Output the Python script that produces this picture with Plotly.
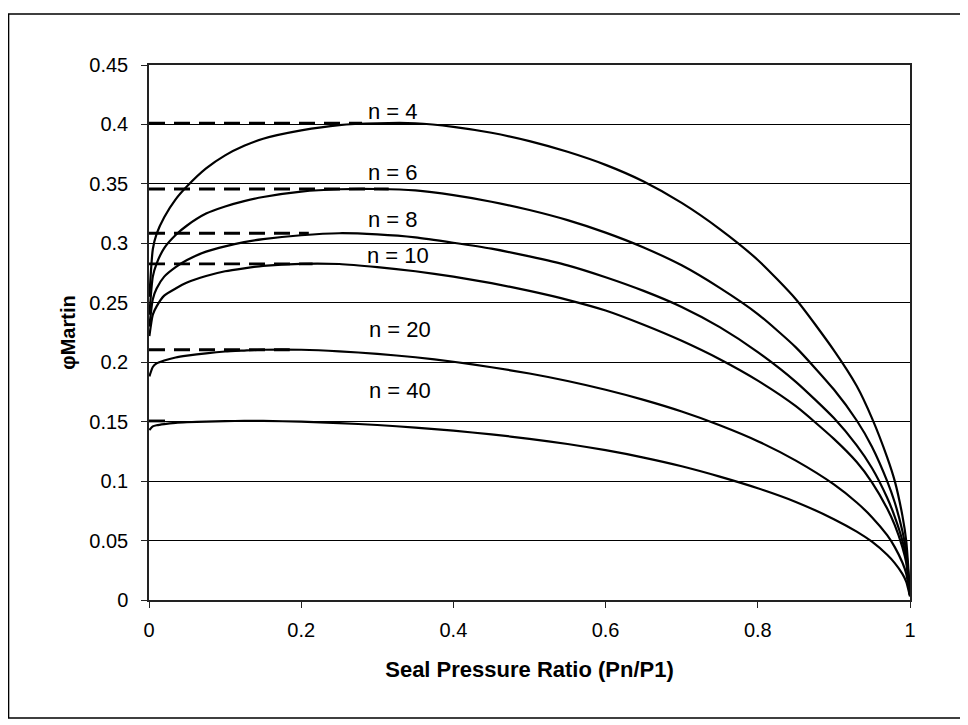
import plotly.graph_objects as go

# ---- data ----
pressure_ratio = [0.0005, 0.005, 0.01, 0.02, 0.035, 0.05, 0.075, 0.1, 0.125, 0.15, 0.2, 0.25,
                  0.3, 0.35, 0.4, 0.45, 0.5, 0.55, 0.6, 0.65, 0.7, 0.75, 0.8, 0.85, 0.9,
                  0.93, 0.95, 0.97, 0.98, 0.99, 0.995, 1.0]

phi_n4 = [0.255, 0.295, 0.308, 0.322, 0.337, 0.348, 0.363, 0.374, 0.382, 0.388, 0.395, 0.3995,
          0.401, 0.401, 0.398, 0.393, 0.386, 0.377, 0.366, 0.352, 0.334, 0.312, 0.286, 0.253, 0.210,
          0.180, 0.153, 0.120, 0.100, 0.071, 0.050, 0.005]
phi_n6 = [0.240, 0.272, 0.283, 0.296, 0.307, 0.315, 0.325, 0.331, 0.3355, 0.339, 0.3435, 0.3455,
          0.3457, 0.3445, 0.3405, 0.335, 0.328, 0.3195, 0.309, 0.2965, 0.2815, 0.2625, 0.2405, 0.2125, 0.177,
          0.151, 0.129, 0.100, 0.082, 0.058, 0.041, 0.005]
phi_n8 = [0.230, 0.253, 0.262, 0.272, 0.280, 0.286, 0.293, 0.2975, 0.301, 0.3035, 0.3068, 0.3085,
          0.3075, 0.305, 0.3005, 0.2955, 0.289, 0.2815, 0.2715, 0.260, 0.2465, 0.2295, 0.2085, 0.1835, 0.153,
          0.130, 0.111, 0.086, 0.070, 0.050, 0.035, 0.004]
phi_n10 = [0.222, 0.240, 0.247, 0.256, 0.262, 0.267, 0.2725, 0.2765, 0.279, 0.281, 0.2828, 0.2826,
           0.2800, 0.2765, 0.2720, 0.2665, 0.2600, 0.2525, 0.2435, 0.2315, 0.218, 0.2025, 0.1845, 0.163, 0.1355,
           0.116, 0.099, 0.077, 0.063, 0.0445, 0.0315, 0.004]
phi_n20 = [0.188, 0.196, 0.199, 0.2015, 0.204, 0.2055, 0.2075, 0.209, 0.2098, 0.2105, 0.2105, 0.2092,
           0.207, 0.2042, 0.2004, 0.1958, 0.1905, 0.1842, 0.1768, 0.1683, 0.1585, 0.147, 0.1336, 0.1172, 0.0972,
           0.082, 0.0697, 0.0545, 0.0445, 0.0315, 0.0223, 0.004]
phi_n40 = [0.143, 0.146, 0.147, 0.148, 0.149, 0.1495, 0.150, 0.1505, 0.1506, 0.1506, 0.150, 0.1488,
           0.1472, 0.1450, 0.1424, 0.1393, 0.1356, 0.1312, 0.126, 0.1198, 0.1125, 0.1038, 0.094, 0.0825, 0.068,
           0.0575, 0.049, 0.038, 0.031, 0.022, 0.0155, 0.003]

series_labels = ["n = 4", "n = 6", "n = 8", "n = 10", "n = 20", "n = 40"]
series_values = [phi_n4, phi_n6, phi_n8, phi_n10, phi_n20, phi_n40]
# extent (in pressure ratio) of each dashed maximum marker line
max_line_extent = [0.28, 0.315, 0.21, 0.215, 0.185, 0.025]

x_tick_vals = [0, 0.2, 0.4, 0.6, 0.8, 1]
x_tick_text = ["0", "0.2", "0.4", "0.6", "0.8", "1"]
y_tick_vals = [0, 0.05, 0.1, 0.15, 0.2, 0.25, 0.3, 0.35, 0.4, 0.45]
y_tick_text = ["0", "0.05", "0.1", "0.15", "0.2", "0.25", "0.3", "0.35", "0.4", "0.45"]

# label anchor positions (layout only)
label_pos = [(0.32, 0.411), (0.32, 0.360), (0.32, 0.320), (0.327, 0.290), (0.33, 0.2275), (0.33, 0.176)]

FONT = "Arial, 'Liberation Sans', sans-serif"

fig = go.Figure()

for name, vals in zip(series_labels, series_values):
    fig.add_trace(go.Scatter(
        x=pressure_ratio, y=vals, mode="lines", name=name,
        line=dict(color="black", width=2.2, shape="spline", smoothing=0.6),
        showlegend=False, hoverinfo="x+y+name"))

for name, vals, ext in zip(series_labels, series_values, max_line_extent):
    m = max(vals)
    fig.add_trace(go.Scatter(
        x=[0, ext], y=[m, m], mode="lines", name=name + " max",
        line=dict(color="black", width=2.8, dash="16px,9px"),
        showlegend=False, hoverinfo="skip"))

for name, (lx, ly) in zip(series_labels, label_pos):
    fig.add_annotation(x=lx, y=ly, text=name, showarrow=False,
                       font=dict(family=FONT, size=22, color="black"),
                       xanchor="center", yanchor="middle")

# outer chart frame
fig.add_shape(type="rect", xref="paper", yref="paper",
              x0=-0.1846, x1=1.0683, y0=-0.2206, y1=1.0953,
              line=dict(color="black", width=1.6), fillcolor="rgba(0,0,0,0)")

fig.update_layout(
    width=968, height=725,
    margin=dict(l=141, r=66, t=57, b=133),
    paper_bgcolor="white", plot_bgcolor="white",
    font=dict(family=FONT, size=20, color="black"),
)

fig.update_xaxes(
    range=[0, 1], tickvals=x_tick_vals, ticktext=x_tick_text,
    showgrid=False, zeroline=False,
    showline=True, linecolor="#222", linewidth=1.5, mirror=True,
    ticks="outside", ticklen=6, tickcolor="#222", ticklabelstandoff=5,
    tickfont=dict(family=FONT, size=20),
    title=dict(text="<b>Seal Pressure Ratio (Pn/P1)</b>", font=dict(family=FONT, size=22), standoff=22),
)
fig.update_yaxes(
    range=[0, 0.45], tickvals=y_tick_vals, ticktext=y_tick_text,
    showgrid=True, gridcolor="black", gridwidth=1, zeroline=False,
    showline=True, linecolor="#222", linewidth=1.5, mirror=True,
    ticks="outside", ticklen=6, tickcolor="#222", ticklabelstandoff=9,
    tickfont=dict(family=FONT, size=20),
    title=dict(text="<b>\u03c6Martin</b>", font=dict(family=FONT, size=20), standoff=8),
)

fig.write_html("out.html")
